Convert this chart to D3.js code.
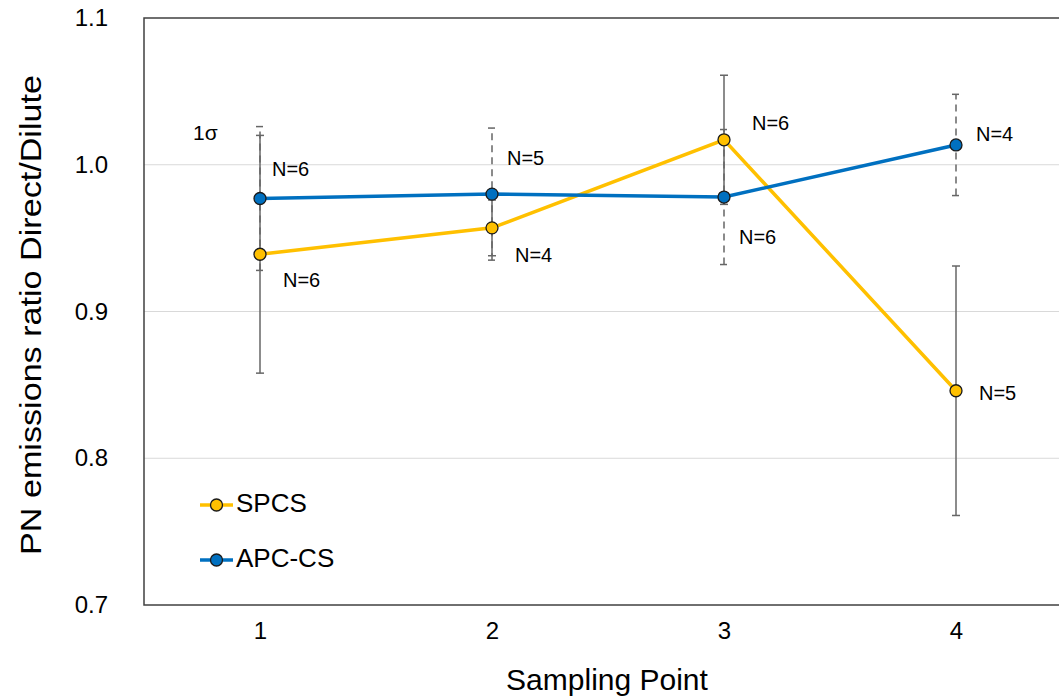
<!DOCTYPE html>
<html>
<head>
<meta charset="utf-8">
<script src="https://cdn.jsdelivr.net/npm/d3@7"></script>
<style>
body { margin: 0; background: #fff; }
text { font-family: "Liberation Sans", Arial, sans-serif; fill: #000; }
</style>
</head>
<body>
<script>
const points = ['1', '2', '3', '4'];
const spcs = [0.939, 0.957, 1.017, 0.846];
const spcsSd = [0.081, 0.019, 0.044, 0.085];
const spcsN = ['N=6', 'N=4', 'N=6', 'N=5'];
const apc = [0.977, 0.980, 0.978, 1.0135];
const apcSd = [0.049, 0.045, 0.046, 0.0345];
const apcN = ['N=6', 'N=5', 'N=6', 'N=4'];
const yTicks = [0.7, 0.8, 0.9, 1.0, 1.1];

const width = 1059, height = 698;
const margin = {top: 18, bottom: 93, left: 144, right: -13};

const svg = d3.select('body').append('svg')
  .attr('width', width)
  .attr('height', height);

const x = d3.scalePoint()
  .domain(points)
  .range([margin.left, width - margin.right])
  .padding(0.5);

const y = d3.scaleLinear()
  .domain([0.7, 1.1])
  .range([height - margin.bottom, margin.top]);

// gridlines
svg.append('g')
  .selectAll('line')
  .data(yTicks.slice(1, -1))
  .join('line')
  .attr('x1', margin.left).attr('x2', width - margin.right)
  .attr('y1', d => y(d)).attr('y2', d => y(d))
  .attr('stroke', '#d9d9d9').attr('stroke-width', 1.2);

// frame
svg.append('rect')
  .attr('x', margin.left).attr('y', margin.top)
  .attr('width', width - margin.right - margin.left)
  .attr('height', height - margin.bottom - margin.top)
  .attr('fill', 'none').attr('stroke', '#404040').attr('stroke-width', 1.5);

// axes
const yAxis = svg.append('g')
  .attr('transform', `translate(${margin.left},0)`)
  .call(d3.axisLeft(y).tickValues(yTicks).tickFormat(d3.format('.1f')).tickSize(0).tickPadding(36));
yAxis.select('.domain').remove();
yAxis.selectAll('text').style('font-size', '24px').style('font-family', '"Liberation Sans", Arial, sans-serif').attr('fill', '#000');

const xAxis = svg.append('g')
  .attr('transform', `translate(0,${height - margin.bottom})`)
  .call(d3.axisBottom(x).tickSize(0).tickPadding(17));
xAxis.select('.domain').remove();
xAxis.selectAll('text').style('font-size', '24px').style('font-family', '"Liberation Sans", Arial, sans-serif').attr('fill', '#000');

svg.append('text')
  .attr('x', 607).attr('y', 690)
  .attr('text-anchor', 'middle')
  .style('font-size', '30px')
  .text('Sampling Point');

svg.append('text')
  .attr('transform', 'translate(41,315) rotate(-90)')
  .attr('text-anchor', 'middle')
  .style('font-size', '29px')
  .attr('textLength', 480)
  .attr('lengthAdjust', 'spacingAndGlyphs')
  .text('PN emissions ratio Direct/Dilute');

// error bars
function errorBars(vals, sds, dash) {
  const g = svg.append('g')
    .attr('stroke', '#666').attr('stroke-width', 1.5)
    .attr('stroke-dasharray', dash);
  g.selectAll('line.v').data(vals).join('line').attr('class', 'v')
    .attr('x1', (d, i) => x(points[i])).attr('x2', (d, i) => x(points[i]))
    .attr('y1', (d, i) => y(d - sds[i])).attr('y2', (d, i) => y(d + sds[i]));
  const caps = [];
  vals.forEach((d, i) => { caps.push([i, d - sds[i]]); caps.push([i, d + sds[i]]); });
  g.selectAll('line.c').data(caps).join('line').attr('class', 'c')
    .attr('stroke-dasharray', null)
    .attr('x1', d => x(points[d[0]]) - 4).attr('x2', d => x(points[d[0]]) + 4)
    .attr('y1', d => y(d[1])).attr('y2', d => y(d[1]));
}
errorBars(spcs, spcsSd, null);
errorBars(apc, apcSd, '7,5');

const line = d3.line().x((d, i) => x(points[i])).y(d => y(d));

function series(vals, color) {
  svg.append('path')
    .datum(vals)
    .attr('d', line)
    .attr('fill', 'none')
    .attr('stroke', color)
    .attr('stroke-width', 3.5);
}
series(spcs, '#FFC000');
series(apc, '#0070C0');

function markers(vals, color) {
  svg.append('g').selectAll('circle').data(vals).join('circle')
    .attr('cx', (d, i) => x(points[i])).attr('cy', d => y(d))
    .attr('r', 6)
    .attr('fill', color).attr('stroke', '#1a1a1a').attr('stroke-width', 1.3);
}
markers(spcs, '#FFC000');
markers(apc, '#0070C0');

// N labels
const spcsOff = [[23, 27], [23, 29], [28, -15], [23, 4]];
const apcOff = [[12, -28], [15, -34], [15, 42], [20, -9]];
function nLabels(vals, labels, off) {
  svg.append('g').selectAll('text').data(vals).join('text')
    .attr('x', (d, i) => x(points[i]) + off[i][0])
    .attr('y', (d, i) => y(d) + off[i][1])
    .style('font-size', '20px')
    .attr('dominant-baseline', 'middle')
    .text((d, i) => labels[i]);
}
nLabels(spcs, spcsN, spcsOff);
nLabels(apc, apcN, apcOff);

svg.append('text')
  .attr('x', 193).attr('y', 134)
  .attr('dominant-baseline', 'middle')
  .style('font-size', '21px')
  .text('1σ');

// legend
const legend = [['SPCS', '#FFC000'], ['APC-CS', '#0070C0']];
const lg = svg.append('g').selectAll('g').data(legend).join('g')
  .attr('transform', (d, i) => `translate(200,${505 + i * 55})`);
lg.append('line').attr('x1', 0).attr('x2', 33).attr('stroke', d => d[1]).attr('stroke-width', 3.5);
lg.append('circle').attr('cx', 16.5).attr('r', 6).attr('fill', d => d[1])
  .attr('stroke', '#1a1a1a').attr('stroke-width', 1.3);
lg.append('text').attr('x', 36).attr('dominant-baseline', 'middle')
  .style('font-size', '26px').text(d => d[0]);
</script>
</body>
</html>
